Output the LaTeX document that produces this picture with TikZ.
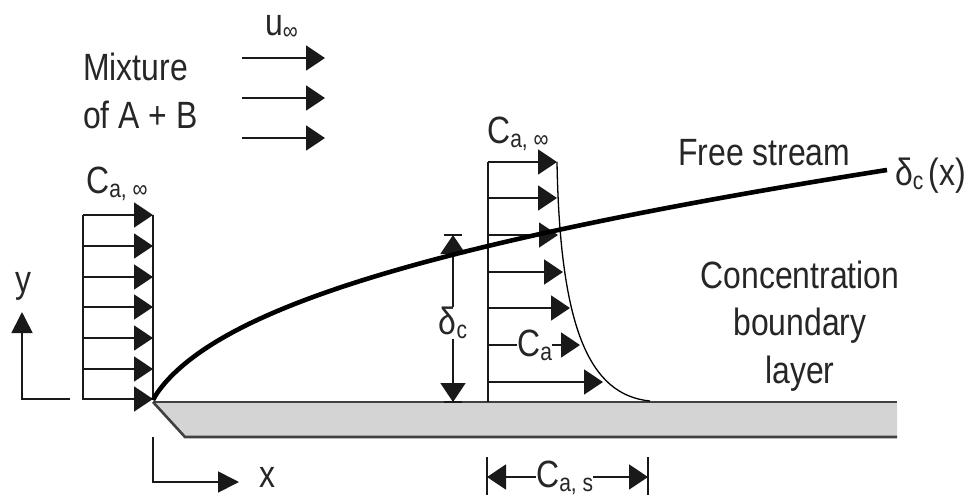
\documentclass[tikz,border=0pt]{standalone}
\usepackage{fontspec}
\setmainfont{Liberation Sans}[FakeStretch=0.84]
\usetikzlibrary{arrows.meta}
\newcommand{\lowsub}[1]{\raisebox{-0.12em}{\fontsize{25}{25}\selectfont #1}}
\begin{document}
\begin{tikzpicture}[x=1pt,y=-1pt,
  txt/.style={font=\fontsize{38}{38}\selectfont, text=black!85, inner sep=0pt, anchor=base west},
  thinln/.style={line width=1.7pt, black!90},
  arr/.style={thinln, -{Triangle[length=19pt,width=25pt]}},
  axisarr/.style={thinln, -{Triangle[length=21pt,width=21pt]}},
  dimbar/.style={line width=1.7pt, black!90},
  plateedge/.style={line width=2.6pt, black!75}]
\useasboundingbox (0,0) rectangle (970,496);

% plate
\fill[black!17] (153,402) -- (897,402) -- (897,437) -- (185,437) -- cycle;
\draw[plateedge] (153,402) -- (897,402);
\draw[plateedge] (153,402) -- (185,437) -- (897,437);

% free stream text block
\node[txt] (mix1) at (83,80) {Mixture};
\node[txt] (mix2) at (83,128) {of A + B};
\node[txt] (uinf) at (265,35) {u\lowsub{∞}};
\foreach \yy [count=\i] in {58,98,138}{
  \coordinate (us\i) at (242,\yy);
  \coordinate (ue\i) at (325,\yy);
  \draw[arr] (us\i) -- (ue\i);
}

% left profile
\node[txt] (cl) at (86,193) {C\lowsub{a, ∞}};
\draw[thinln] (83,215) -- (83,400);
\draw[thinln] (153,215) -- (153,400);
\foreach \yy [count=\i] in {215,246,277,307,338,369,399}{
  \coordinate (ls\i) at (83,\yy);
  \coordinate (le\i) at (153,\yy);
  \draw[arr] (ls\i) -- (le\i);
}

% axes
\coordinate (yo) at (70,399);
\coordinate (yc) at (22,399);
\coordinate (yt) at (22,312);
\draw[axisarr] (yo) -- (yc) -- (yt);
\node[txt, anchor=center] (ylab) at (23,286) {y};
\coordinate (xo) at (153,437);
\coordinate (xc) at (153,482);
\coordinate (xt) at (239,482);
\draw[axisarr] (xo) -- (xc) -- (xt);
\node[txt, anchor=center] (xlab) at (267,477) {x};

% middle profile
\node[txt] (cm) at (487,143) {C\lowsub{a, ∞}};
\draw[thinln] (488,162) -- (488,402);
\draw[line width=1.3pt, black] (557,162) .. controls (560,330) and (590,395) .. (650,401);
\foreach \yy/\xx [count=\i] in {162/557,198/557,235/558,272/563,308/570,382/603}{
  \coordinate (ms\i) at (488,\yy);
  \coordinate (me\i) at (\xx,\yy);
  \draw[arr] (ms\i) -- (me\i);
}
\coordinate (cas) at (488,345);
\coordinate (cae) at (580,345);
\node[txt] (ca) at (517,356) {C\lowsub{a}};
\draw[thinln] (cas) -- (ca.west |- cas);
\draw[arr] (ca.east |- cas) -- (cae);

% delta_c dimension
\coordinate (dtop) at (453,235);
\coordinate (dbot) at (453,402);
\draw[dimbar] ([xshift=-9pt]dtop) -- ([xshift=9pt]dtop);
\draw[dimbar] ([xshift=-9pt]dbot) -- ([xshift=9pt]dbot);
\node[txt, anchor=center] (dl) at (453,323) {δ\lowsub{c}};
\draw[arr] (dl.north) -- (dtop);
\draw[arr] (dl.south) -- (dbot);

% C_a,s dimension
\coordinate (sl) at (487,477);
\coordinate (sr) at (648,477);
\draw[dimbar] (487,457) -- (487,495);
\draw[dimbar] (648,457) -- (648,495);
\node[txt] (cs) at (536,487) {C\lowsub{a, s}};
\draw[arr] (cs.west |- sl) -- (sl);
\draw[arr] (cs.east |- sr) -- (sr);

% free stream boundary curve
\draw[line width=4.6pt, black] plot[domain=0:734, samples=250, smooth] ({153+\x},{400-8.5*sqrt(\x)*(1-exp(-sqrt(\x)/4))});

% labels right
\node[txt] (fs) at (678,165) {Free stream};
\node[txt] (dx) at (895,185) {δ\lowsub{c}\hspace{5pt}(x)};
\node[txt, anchor=base] (cb1) at (800,288) {Concentration};
\node[txt, anchor=base] (cb2) at (800,335) {boundary};
\node[txt, anchor=base] (cb3) at (800,383) {layer};
\end{tikzpicture}
\end{document}
